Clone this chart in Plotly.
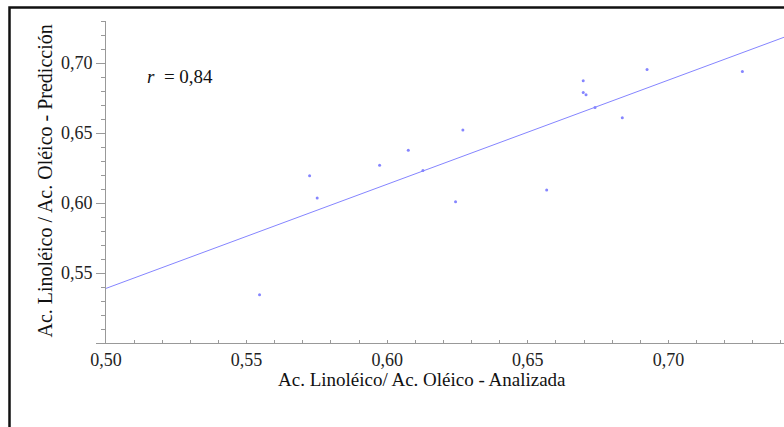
import plotly.graph_objects as go

# Measured data (Analizada vs Predicción)
analizada = [0.5546, 0.5724, 0.5751, 0.5973, 0.6075, 0.6127, 0.6243, 0.6269,
             0.6567, 0.6697, 0.6697, 0.6707, 0.6739, 0.6836, 0.6924, 0.7263]
prediccion = [0.5345, 0.6195, 0.6036, 0.6269, 0.6376, 0.6233, 0.6009, 0.6521,
              0.6093, 0.6874, 0.6790, 0.6774, 0.6683, 0.6609, 0.6954, 0.6940]

# Regression line endpoints
fit_x = [0.50, 0.75]
fit_y = [0.539, 0.725]

x_ticks = [0.50, 0.55, 0.60, 0.65, 0.70]
y_ticks = [0.50, 0.55, 0.60, 0.65, 0.70]
y_ticktext = ["", "0,55", "0,60", "0,65", "0,70"]

FONT = "Liberation Serif"
BLUE = "#8585ff"
AX = "#999999"

fig = go.Figure()
fig.add_trace(go.Scatter(x=fit_x, y=fit_y, mode="lines",
                         line=dict(color=BLUE, width=1), hoverinfo="skip"))
fig.add_trace(go.Scatter(x=analizada, y=prediccion, mode="markers",
                         marker=dict(color=BLUE, size=3, line=dict(width=0))))

axis_common = dict(
    showgrid=False, zeroline=False, showline=True, linecolor=AX, linewidth=1,
    tickcolor=AX, tickwidth=1,
    tickfont=dict(family=FONT, size=18, color="#222222"),
    tickformat=".2f",
)

fig.update_layout(
    width=784, height=427,
    margin=dict(l=106, r=0, t=21, b=84),
    paper_bgcolor="white", plot_bgcolor="white",
    showlegend=False,
    separators=",.",
    xaxis=dict(range=[0.50, 0.7411], tickvals=x_ticks, ticks="inside", ticklen=3,
               minor=dict(dtick=0.01, tick0=0.5, ticks="inside", ticklen=3,
                          tickcolor=AX, showgrid=False),
               **axis_common),
    yaxis=dict(range=[0.50, 0.73], tickvals=y_ticks, ticktext=y_ticktext,
               ticks="outside", ticklen=9,
               minor=dict(dtick=0.01, tick0=0.5, ticks="outside", ticklen=4,
                          tickcolor=AX, showgrid=False),
               **axis_common),
)

W, H = 678.0, 322.0
L, B = 106.0, 343.0
fig.add_annotation(xref="paper", yref="paper",
                   x=(421.5 - L) / W, y=(B - 379) / H,
                   text="Ac. Linoléico/ Ac. Oléico - Analizada", showarrow=False,
                   xanchor="center", yanchor="middle",
                   font=dict(family=FONT, size=19, color="#111111"))
fig.add_annotation(xref="paper", yref="paper",
                   x=(44 - L) / W, y=(B - 181.5) / H,
                   text="Ac. Linoléico / Ac. Oléico - Predicción", showarrow=False,
                   textangle=-90, xanchor="center", yanchor="middle",
                   font=dict(family=FONT, size=20, color="#111111"))
fig.add_annotation(xref="paper", yref="paper",
                   x=(145 - L) / W, y=(B - 76) / H,
                   text="<i>r</i>  = 0,84", showarrow=False,
                   xanchor="left", yanchor="middle",
                   font=dict(family=FONT, size=19, color="#111111"))

# outer frame (cropped at right/bottom)
fig.add_shape(type="rect", xref="paper", yref="paper",
              x0=(9.5 - L) / W, x1=1.2, y0=-0.5, y1=(B - 7.5) / H,
              line=dict(color="#111111", width=2.5), layer="above")

fig.write_html("out.html")
